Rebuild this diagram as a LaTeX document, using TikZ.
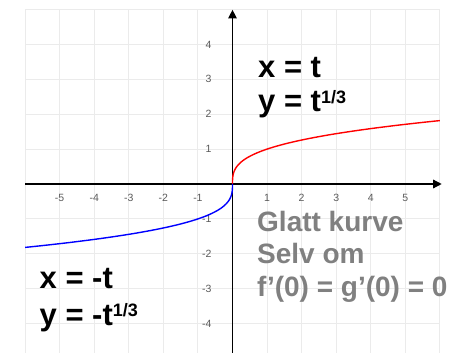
\documentclass[tikz,border=0pt]{standalone}
\usepackage{fontspec}
\setmainfont{Liberation Sans}
\usetikzlibrary{arrows.meta}
\definecolor{gridc}{HTML}{EBEBEB}
\definecolor{gtext}{HTML}{808080}
\definecolor{tickgray}{HTML}{5A5A5A}
\newcommand{\supthird}[1]{\raisebox{8.4pt}{\fontsize{18}{18}\selectfont #1}}
\begin{document}
\begin{tikzpicture}[x=1pt,y=-1pt,
  bigtxt/.style={anchor=base west, inner sep=0pt, font=\fontsize{31}{31}\selectfont\bfseries, text=black},
  graytxt/.style={anchor=base west, inner sep=0pt, font=\fontsize{28}{28}\selectfont\bfseries, text=gtext},
  ticklbl/.style={inner sep=0pt, font=\fontsize{10.5}{10.5}\selectfont, text=tickgray},
  gridline/.style={draw=gridc, line width=1pt},
  axisline/.style={draw=black, line width=1.3pt, -{Triangle[length=8.5pt,width=8.5pt]}},
  curvered/.style={draw=red, line width=1.4pt},
  curveblue/.style={draw=blue, line width=1.4pt}]
\fill[white] (0,0) rectangle (456,353);
\useasboundingbox (0,0) rectangle (456,353);
\begin{scope}[shift={(232.5,184)}, x=34.58pt, y=34.9pt]
  % grid
  \foreach \i in {-6,...,6} \draw[gridline] (\i,5) -- (\i,-4.9);
  \foreach \j in {-4,...,5} \draw[gridline] (-6,\j) -- (6,\j);
  % axes
  \coordinate (xs) at (-6,0);
  \coordinate (xe) at (6.05,0);
  \coordinate (ys) at (0,-4.9);
  \coordinate (ye) at (0,4.99);
  \draw[axisline] (xs) -- (xe);
  \draw[axisline] (ys) -- (ye);
  % tick labels
  \foreach \i in {-5,...,-1,1,2,...,5} \node[ticklbl] (xl\i) at (\i,-0.39) {\i};
  \foreach \j in {-4,...,-1,1,2,...,4} \node[ticklbl, anchor=east] (yl\j) at (-0.6,\j) {\j};
  % curves
  \draw[curvered] plot[domain=0:1.8171, samples=80, variable=\t] ({\t*\t*\t},\t);
  \draw[curveblue] plot[domain=0:1.8171, samples=80, variable=\t] ({-\t*\t*\t},-\t);
\end{scope}
\node[bigtxt] (t1) at (258,77.3) {x = t};
\node[bigtxt] (t2) at (258,111.7) {y = t\supthird{1/3}};
\node[bigtxt] (t3) at (39.5,288.3) {x = -t};
\node[bigtxt] (t4) at (39.5,325) {y = -t\supthird{1/3}};
\node[graytxt] (g1) at (257,231.5) {Glatt kurve};
\node[graytxt] (g2) at (257,263.3) {Selv om};
\node[graytxt] (g3) at (257,296.7) {f’(0) = g’(0) = 0};
\end{tikzpicture}
\end{document}
